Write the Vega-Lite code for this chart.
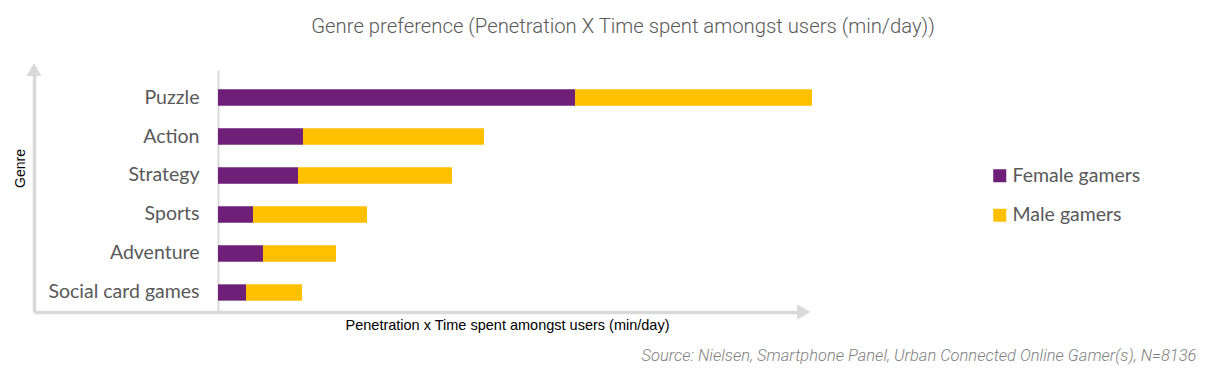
{
  "$schema": "https://vega.github.io/schema/vega-lite/v6.json",
  "width": 766,
  "height": 242,
  "autosize": {"type": "none"},
  "padding": {"left": 34, "top": 70, "right": 412, "bottom": 68},
  "background": "white",
  "config": {"view": {"stroke": null}},
  "title": {
    "text": "Genre preference (Penetration X Time spent amongst users (min/day))",
    "anchor": "middle",
    "dx": 206,
    "offset": 11,
    "baseline": "alphabetic",
    "font": "Roboto",
    "fontSize": 20.3,
    "fontWeight": 300,
    "color": "#595959"
  },
  "data": {
    "values": [
      {"genre": "Puzzle", "gender": "Female gamers", "value": 357},
      {"genre": "Puzzle", "gender": "Male gamers", "value": 237},
      {"genre": "Action", "gender": "Female gamers", "value": 85},
      {"genre": "Action", "gender": "Male gamers", "value": 181},
      {"genre": "Strategy", "gender": "Female gamers", "value": 80},
      {"genre": "Strategy", "gender": "Male gamers", "value": 154},
      {"genre": "Sports", "gender": "Female gamers", "value": 35},
      {"genre": "Sports", "gender": "Male gamers", "value": 114},
      {"genre": "Adventure", "gender": "Female gamers", "value": 45},
      {"genre": "Adventure", "gender": "Male gamers", "value": 73},
      {"genre": "Social card games", "gender": "Female gamers", "value": 28},
      {"genre": "Social card games", "gender": "Male gamers", "value": 56}
    ]
  },
  "resolve": {"scale": {"y": "independent"}, "axis": {"x": "independent", "y": "independent"}},
  "layer": [
    {
      "mark": {"type": "bar"},
      "encoding": {
        "y": {
          "field": "genre",
          "type": "nominal",
          "sort": ["Puzzle", "Action", "Strategy", "Sports", "Adventure", "Social card games"],
          "scale": {"paddingInner": 0.582, "paddingOuter": 0.394, "align": 0.63},
          "axis": {
            "orient": "left",
            "offset": -184,
            "title": null,
            "ticks": false,
            "labelPadding": 19,
            "labelFont": "Lato",
            "labelFontSize": 19.5,
            "labelColor": "#595959",
            "domainColor": "#d9d9d9",
            "domainWidth": 2
          }
        },
        "x": {
          "field": "value",
          "type": "quantitative",
          "stack": "zero",
          "scale": {"domain": [-184, 582], "nice": false, "zero": false},
          "axis": {
            "orient": "bottom",
            "grid": false,
            "ticks": false,
            "labels": false,
            "domainColor": "#d9d9d9",
            "domainWidth": 3.5,
            "title": "Penetration x Time spent amongst users (min/day)",
            "titleFont": "Liberation Sans",
            "titleFontSize": 14.5,
            "titleFontWeight": "normal",
            "titleColor": "#000000",
            "titleX": 473,
            "titleY": 17,
            "titleAlign": "center",
            "titleBaseline": "alphabetic"
          }
        },
        "color": {
          "field": "gender",
          "type": "nominal",
          "scale": {"domain": ["Female gamers", "Male gamers"], "range": ["#6e1f78", "#ffc000"]},
          "legend": {
            "orient": "none",
            "legendX": 956,
            "legendY": 96,
            "title": null,
            "padding": 0,
            "symbolType": "square",
            "symbolSize": 169,
            "symbolStrokeWidth": 0,
            "symbolOpacity": 1,
            "labelFont": "Lato",
            "labelFontSize": 19.5,
            "labelColor": "#595959",
            "labelOffset": 3,
            "rowPadding": 18.5
          }
        },
        "order": {"field": "gender", "type": "nominal", "sort": "ascending"}
      }
    },
    {
      "mark": {"type": "point", "shape": "triangle-right", "filled": true, "color": "#d9d9d9", "opacity": 1, "size": 190},
      "encoding": {
        "x": {
          "datum": 585.5,
          "type": "quantitative",
          "axis": {
            "orient": "bottom",
            "domain": false,
            "grid": false,
            "ticks": false,
            "labels": false,
            "title": "Source: Nielsen, Smartphone Panel, Urban Connected Online Gamer(s), N=8136",
            "titleFont": "Roboto",
            "titleFontSize": 16.5,
            "titleFontWeight": 300,
            "titleFontStyle": "italic",
            "titleColor": "#7f7f7f",
            "titleX": 1162,
            "titleY": 48,
            "titleAlign": "right",
            "titleBaseline": "alphabetic"
          }
        },
        "y": {
          "datum": 0,
          "type": "quantitative",
          "scale": {"domain": [0, 1], "nice": false},
          "axis": {
            "orient": "left",
            "grid": false,
            "ticks": false,
            "labels": false,
            "domainColor": "#d9d9d9",
            "domainWidth": 3.5,
            "title": "Genre",
            "titleFont": "Liberation Sans",
            "titleFontSize": 14,
            "titleFontWeight": "normal",
            "titleColor": "#000000",
            "titleAngle": -90,
            "titleX": -14,
            "titleY": 98,
            "titleAlign": "center",
            "titleBaseline": "middle"
          }
        }
      }
    },
    {
      "mark": {"type": "point", "shape": "triangle-up", "filled": true, "color": "#d9d9d9", "opacity": 1, "size": 190},
      "encoding": {
        "x": {"datum": -184, "type": "quantitative", "axis": null},
        "y": {"datum": 1, "type": "quantitative", "scale": {"domain": [0, 1], "nice": false}, "axis": null}
      }
    }
  ]
}
